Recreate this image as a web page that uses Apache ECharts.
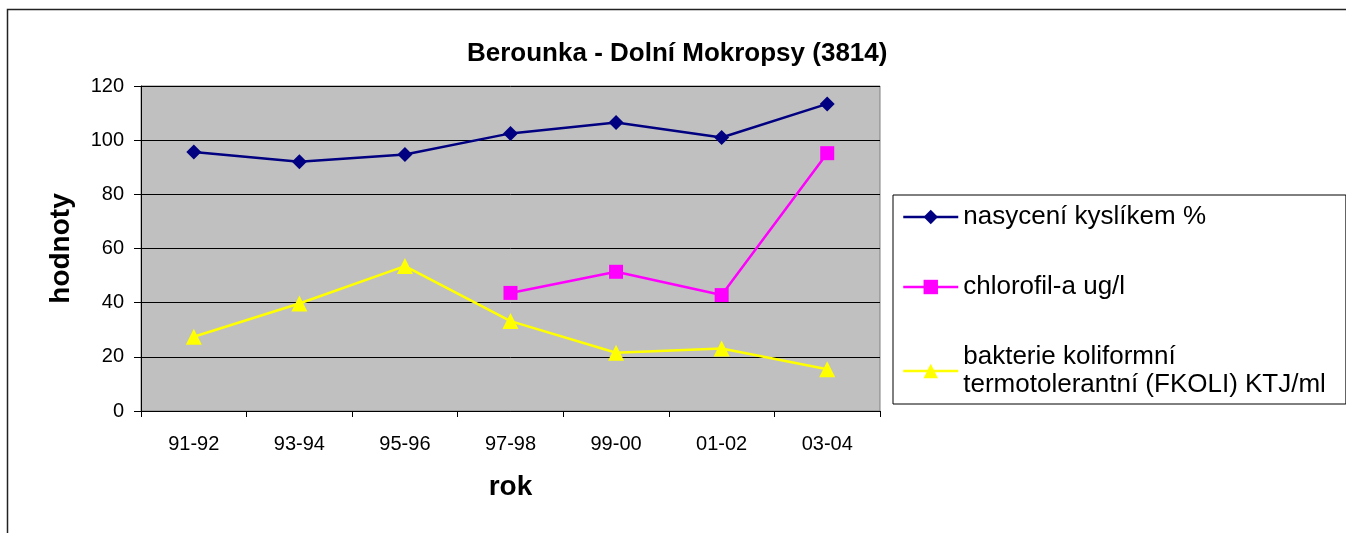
<!DOCTYPE html>
<html>
<head>
<meta charset="utf-8">
<script src="https://cdn.jsdelivr.net/npm/echarts@6/dist/echarts.min.js"></script>
<style>
  html, body { margin: 0; padding: 0; background: #fff; }
  #chart { width: 1346px; height: 533px; }
</style>
</head>
<body>
<div id="chart"></div>
<script>
const years = ['91-92', '93-94', '95-96', '97-98', '99-00', '01-02', '03-04'];
const kyslik = [95.6, 92, 94.7, 102.5, 106.5, 101, 113.4];
const chlorofil = [null, null, null, 43.6, 51.4, 42.8, 95.2];
const fkoli = [27.4, 39.7, 53.5, 33.2, 21.5, 23.1, 15.4];
const yTicks = { min: 0, max: 120, interval: 20 };

const font = 'Arial, "Liberation Sans", sans-serif';

const chartInit = () => {
    const chartElement = document.getElementById('chart');
    const chart = echarts.init(chartElement);

    const lineSeries = (name, data, color, symbol, size) => ({
        name: name,
        type: 'line',
        data: data,
        symbol: symbol,
        symbolSize: size,
        showSymbol: true,
        connectNulls: false,
        lineStyle: { color: color, width: 2.5 },
        itemStyle: { color: color },
        emphasis: { disabled: true },
        z: 3
    });

    const options = {
        animation: false,
        textStyle: { fontFamily: font },
        graphic: [
            {
                type: 'rect',
                shape: { x: 7.5, y: 9.5, width: 1400, height: 600 },
                style: { fill: 'none', stroke: '#222', lineWidth: 1.5 },
                silent: true
            }
        ],
        title: {
            text: 'Berounka - Dolní Mokropsy (3814)',
            left: 467,
            top: 41,
            padding: 0,
            textStyle: { fontFamily: font, fontSize: 26, fontWeight: 'bold', color: '#000' }
        },
        grid: {
            left: 141,
            top: 86,
            right: 466,
            bottom: 122,
            show: true,
            backgroundColor: '#C0C0C0',
            borderColor: '#808080',
            borderWidth: 1
        },
        legend: {
            orient: 'vertical',
            left: 893,
            top: 195,
            padding: [8, 20, 5, 9],
            itemWidth: 55,
            itemHeight: 18,
            itemGap: 42,
            borderColor: '#000',
            borderWidth: 1,
            backgroundColor: '#fff',
            lineStyle: { width: 2.5 },
            textStyle: { fontFamily: font, fontSize: 26, color: '#000', lineHeight: 28 },
            data: ['nasycení kyslíkem %', 'chlorofil-a ug/l', 'bakterie koliformní\ntermotolerantní (FKOLI) KTJ/ml']
        },
        xAxis: {
            type: 'category',
            data: years,
            boundaryGap: true,
            name: 'rok',
            nameLocation: 'middle',
            nameGap: 62,
            nameTextStyle: { fontFamily: font, fontSize: 28, fontWeight: 'bold', color: '#000' },
            axisLine: { lineStyle: { color: '#000', width: 1 } },
            axisTick: { show: true, length: 6, lineStyle: { color: '#000' } },
            axisLabel: { fontFamily: font, fontSize: 20, color: '#000', margin: 23 },
            splitLine: { show: false }
        },
        yAxis: {
            type: 'value',
            min: yTicks.min,
            max: yTicks.max,
            interval: yTicks.interval,
            name: 'hodnoty',
            nameLocation: 'middle',
            nameGap: 66,
            nameTextStyle: { fontFamily: font, fontSize: 28, fontWeight: 'bold', color: '#000' },
            axisLine: { show: true, lineStyle: { color: '#000', width: 1 } },
            axisTick: { show: true, length: 7, lineStyle: { color: '#000' } },
            axisLabel: { fontFamily: font, fontSize: 20, color: '#000', margin: 17 },
            splitLine: { show: true, lineStyle: { color: '#000', width: 1 } }
        },
        series: [
            lineSeries('nasycení kyslíkem %', kyslik, '#000080', 'diamond', 15),
            lineSeries('chlorofil-a ug/l', chlorofil, '#FF00FF', 'rect', 14),
            lineSeries('bakterie koliformní\ntermotolerantní (FKOLI) KTJ/ml', fkoli, '#FFFF00', 'triangle', 16)
        ]
    };

    chart.setOption(options);
};

chartInit();
</script>
</body>
</html>
